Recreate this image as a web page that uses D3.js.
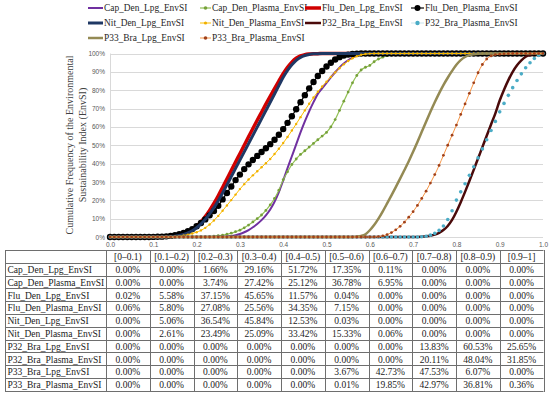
<!DOCTYPE html>
<html>
<head>
<meta charset="utf-8">
<script src="https://cdn.jsdelivr.net/npm/d3@7"></script>
<style>
  body { margin: 0; background: #fff; }
  svg { display: block; }
</style>
</head>
<body>
<div id="chart"></div>
<script>

// EnvSI sample grid 0.00 .. 1.00 (step 0.01)
var envsi = d3.range(0, 101).map(i => i / 100);

// Cumulative frequency (%)
var capDenLpg = [0,0,0,0,0,0,0,0,0,0, 0,0,0,0,0,0,0,0,0,0, 0,0,0,0,0,0,0.1,0.2,0.5,1.0,
  1.66,2.6,3.8,5.3,7.1,9.2,11.8,15,19.2,24.5, 30.8,37.5,44,50.5,57,63,68.5,73.5,78,81,
  84,87,89.8,92.3,94.5,96.3,97.7,98.7,99.3,99.7, 99.89,100,100,100,100,100,100,100,100,100,
  100,100,100,100,100,100,100,100,100,100, 100,100,100,100,100,100,100,100,100,100,
  100,100,100,100,100,100,100,100,100,100, 100];
var capDenPlasma = [0,0,0,0,0,0,0,0,0,0, 0,0,0,0,0,0,0,0,0,0, 0,0,0,0.2,0.4,0.7,1.0,1.5,2.1,2.9,
  3.74,5,6.5,8.2,10,12,14.5,17.5,21,25.5, 31.2,35.5,39.5,42.5,45,47,49,51,53,55,
  57,60,64,69,74,79,84,88,91,92.5, 93.5,95.5,97,98,98.8,99.3,99.6,99.8,99.9,100,
  100,100,100,100,100,100,100,100,100,100, 100,100,100,100,100,100,100,100,100,100,
  100,100,100,100,100,100,100,100,100,100, 100];
var fluDenLpg = [0,0,0,0,0,0,0,0,0,0.01, 0.02,0.05,0.1,0.2,0.35,0.6,1.0,1.7,2.7,4.0,
  5.8,8.2,11.1,14.5,18.3,22.5,27,31.6,36.2,40.8, 45.4,50,54.6,59.1,63.6,68,72.4,76.7,80.9,85,
  89,92.5,95.3,97.4,98.7,99.4,99.7,99.85,99.92,99.95, 99.97,99.99,100,100,100,100,100,100,100,100,
  100,100,100,100,100,100,100,100,100,100, 100,100,100,100,100,100,100,100,100,100,
  100,100,100,100,100,100,100,100,100,100, 100,100,100,100,100,100,100,100,100,100, 100];
var fluDenPlasma = [0,0,0,0,0,0,0.005,0.01,0.02,0.04, 0.06,0.1,0.2,0.35,0.6,1.0,1.5,2.2,3.1,4.3,
  5.86,7.6,9.6,11.8,14.2,17,20.5,24,27.5,31, 34,37,39.6,42,44.2,46.3,48.4,50.6,53,55.7,
  58.8,62.2,65.8,69.6,73.5,77.3,81,84.5,87.7,90.5, 92.9,95,96.7,98,98.9,99.4,99.7,99.9,100,100,
  100,100,100,100,100,100,100,100,100,100, 100,100,100,100,100,100,100,100,100,100,
  100,100,100,100,100,100,100,100,100,100, 100,100,100,100,100,100,100,100,100,100, 100];
var nitDenLpg = [0,0,0,0,0,0,0,0,0,0, 0,0.02,0.05,0.12,0.25,0.45,0.8,1.35,2.2,3.4,
  5.06,7.1,9.6,12.6,16,19.8,24,28.4,32.9,37.4, 41.9,46.4,50.9,55.4,59.9,64.4,68.9,73.4,77.9,82.5,
  87,90.8,93.9,96.3,97.9,98.9,99.5,99.8,99.9,99.95, 99.97,100,100,100,100,100,100,100,100,100,
  100,100,100,100,100,100,100,100,100,100, 100,100,100,100,100,100,100,100,100,100,
  100,100,100,100,100,100,100,100,100,100, 100,100,100,100,100,100,100,100,100,100, 100];
var nitDenPlasma = [0,0,0,0,0,0,0,0,0,0, 0,0.02,0.05,0.1,0.18,0.3,0.5,0.8,1.3,1.9,
  2.61,3.6,5,6.8,9,11.5,14.3,17.2,20.1,23.1, 26.1,28.8,31.3,33.6,35.8,38,40.2,42.5,45.2,48.1,
  51.2,54.5,58,61.6,65.3,69,72.6,76,79.2,82, 84.6,87.2,89.7,92,94.1,95.9,97.4,98.5,99.3,99.7,
  99.94,100,100,100,100,100,100,100,100,100, 100,100,100,100,100,100,100,100,100,100,
  100,100,100,100,100,100,100,100,100,100, 100,100,100,100,100,100,100,100,100,100, 100];
var p32BraLpg = [0,0,0,0,0,0,0,0,0,0, 0,0,0,0,0,0,0,0,0,0, 0,0,0,0,0,0,0,0,0,0,
  0,0,0,0,0,0,0,0,0,0, 0,0,0,0,0,0,0,0,0,0, 0,0,0,0,0,0,0,0,0,0, 0,0,0,0,0,0,0,0,0,0,
  0,0.05,0.15,0.35,0.7,1.3,2.3,3.8,6,9.3, 13.8,19,24.6,30.5,36.6,42.8,49,55.2,61.3,67.4,
  74.4,80.3,85.5,90,93.6,96.3,98.2,99.3,99.8,100, 100];
var p32BraPlasma = [0,0,0,0,0,0,0,0,0,0, 0,0,0,0,0,0,0,0,0,0, 0,0,0,0,0,0,0,0,0,0,
  0,0,0,0,0,0,0,0,0,0, 0,0,0,0,0,0,0,0,0,0, 0,0,0,0,0,0,0,0,0,0, 0,0,0,0,0,0,0,0,0,0,
  0,0,0.1,0.4,1,2,3.6,6,9.5,14.3, 20.1,24.6,29,33.6,38.3,43.1,48,53,58,63,
  68.2,72.8,77.2,81.4,85.3,88.9,92.2,95,97.3,99, 100];
var p33BraLpg = [0,0,0,0,0,0,0,0,0,0, 0,0,0,0,0,0,0,0,0,0, 0,0,0,0,0,0,0,0,0,0,
  0,0,0,0,0,0,0,0,0,0, 0,0,0,0,0,0,0,0,0,0, 0,0,0,0,0,0,0,0.2,0.6,1.5,
  3.67,6.5,10,14,18.3,22.7,27.2,31.8,36.5,41.3, 46.4,51.8,57.3,62.8,68.2,73.4,78.3,82.8,86.8,90.5,
  93.9,96.4,98.1,99.1,99.6,99.9,100,100,100,100, 100,100,100,100,100,100,100,100,100,100, 100];
var p33BraPlasma = [0,0,0,0,0,0,0,0,0,0, 0,0,0,0,0,0,0,0,0,0, 0,0,0,0,0,0,0,0,0,0,
  0,0,0,0,0,0,0,0,0,0, 0,0,0,0,0,0,0,0,0,0, 0,0,0,0,0,0,0,0,0,0,
  0.01,0.05,0.2,0.6,1.3,2.4,3.9,5.8,8.1,10.8, 13.8,17.2,21,25,29.4,34,39,44.5,50,55.5,
  61,66.8,72.5,78.3,84,89.5,94,97,98.7,99.4, 99.64,99.8,99.9,100,100,100,100,100,100,100, 100];

// Table: frequency per EnvSI class (%)
var binLabels = ["[0\u20130.1)", "[0.1\u20130.2)", "[0.2\u20130.3)", "[0.3\u20130.4)", "[0.4\u20130.5)",
  "[0.5\u20130.6)", "[0.6\u20130.7)", "[0.7\u20130.8)", "[0.8\u20130.9)", "[0.9\u20131]"];
var tabCapDenLpg    = [0, 0, 1.66, 29.16, 51.72, 17.35, 0.11, 0, 0, 0];
var tabCapDenPlasma = [0, 0, 3.74, 27.42, 25.12, 36.78, 6.95, 0, 0, 0];
var tabFluDenLpg    = [0.02, 5.58, 37.15, 45.65, 11.57, 0.04, 0, 0, 0, 0];
var tabFluDenPlasma = [0.06, 5.80, 27.08, 25.56, 34.35, 7.15, 0, 0, 0, 0];
var tabNitDenLpg    = [0, 5.06, 36.54, 45.84, 12.53, 0.03, 0, 0, 0, 0];
var tabNitDenPlasma = [0, 2.61, 23.49, 25.09, 33.42, 15.33, 0.06, 0, 0, 0];
var tabP32BraLpg    = [0, 0, 0, 0, 0, 0, 0, 13.83, 60.53, 25.65];
var tabP32BraPlasma = [0, 0, 0, 0, 0, 0, 0, 20.11, 48.04, 31.85];
var tabP33BraLpg    = [0, 0, 0, 0, 0, 3.67, 42.73, 47.53, 6.07, 0];
var tabP33BraPlasma = [0, 0, 0, 0, 0, 0.01, 19.85, 42.97, 36.81, 0.36];

var yTicks = [0, 10, 20, 30, 40, 50, 60, 70, 80, 90, 100];
var xTicks = [0, 0.1, 0.2, 0.3, 0.4, 0.5, 0.6, 0.7, 0.8, 0.9, 1.0];

// series styling
var series = [
  {name: "Cap_Den_Lpg_EnvSI", values: capDenLpg, table: tabCapDenLpg, color: "#7030A0", width: 2},
  {name: "Cap_Den_Plasma_EnvSI", values: capDenPlasma, table: tabCapDenPlasma, color: "#92C055", width: 1.2, marker: 1.4, markerColor: "#76A03A"},
  {name: "Flu_Den_Lpg_EnvSI", values: fluDenLpg, table: tabFluDenLpg, color: "#D00000", width: 3.5},
  {name: "Flu_Den_Plasma_EnvSI", values: fluDenPlasma, table: tabFluDenPlasma, color: "#000000", width: 1.2, marker: 3.2, markerColor: "#000000"},
  {name: "Nit_Den_Lpg_EnvSI", values: nitDenLpg, table: tabNitDenLpg, color: "#1F3864", width: 3},
  {name: "Nit_Den_Plasma_EnvSI", values: nitDenPlasma, table: tabNitDenPlasma, color: "#FFC000", width: 1, marker: 1.2, markerColor: "#F0B000"},
  {name: "P32_Bra_Lpg_EnvSI", values: p32BraLpg, table: tabP32BraLpg, color: "#4A0A0A", width: 2.5},
  {name: "P32_Bra_Plasma_EnvSI", values: p32BraPlasma, table: tabP32BraPlasma, color: "#4BACC6", width: 0, marker: 1.8, markerColor: "#4BACC6"},
  {name: "P33_Bra_Lpg_EnvSI", values: p33BraLpg, table: tabP33BraLpg, color: "#948A54", width: 2.5},
  {name: "P33_Bra_Plasma_EnvSI", values: p33BraPlasma, table: tabP33BraPlasma, color: "#F79646", width: 1, marker: 1.4, markerColor: "#A0401A"}
];

var svgWidth = 550;
var svgHeight = 394;
var plot = {left: 110, right: 543, top: 53.5, bottom: 237};

var svg = d3.select("#chart")
  .append("svg")
  .attr("width", svgWidth)
  .attr("height", svgHeight);

var xScale = d3.scaleLinear().domain([0, 1]).range([plot.left, plot.right]);
var yScale = d3.scaleLinear().domain([0, 100]).range([plot.bottom, plot.top]);

// gridlines
svg.append("g")
  .selectAll("line")
  .data(yTicks)
  .enter()
  .append("line")
  .attr("x1", plot.left)
  .attr("x2", plot.right)
  .attr("y1", d => Math.round(yScale(d)) + 0.5)
  .attr("y2", d => Math.round(yScale(d)) + 0.5)
  .attr("stroke", "#D9D9D9")
  .attr("stroke-width", 1);

// left axis line
svg.append("line")
  .attr("x1", plot.left + 0.5).attr("x2", plot.left + 0.5)
  .attr("y1", plot.top).attr("y2", plot.bottom + 3)
  .attr("stroke", "#D9D9D9");

// tick labels
var yAxis = d3.axisLeft(yScale).tickValues(yTicks).tickSize(0).tickPadding(5)
  .tickFormat(d => d + "%");
svg.append("g")
  .attr("transform", `translate(${plot.left}, 0)`)
  .call(yAxis)
  .call(g => g.select(".domain").remove())
  .selectAll("text")
  .style("font-family", "'Liberation Sans', Arial, sans-serif")
  .style("font-size", "6.5px")
  .attr("fill", "#595959");

var xAxis = d3.axisBottom(xScale).tickValues(xTicks).tickSize(0).tickPadding(5)
  .tickFormat(d3.format(".1f"));
svg.append("g")
  .attr("transform", `translate(0, ${plot.bottom})`)
  .call(xAxis)
  .call(g => g.select(".domain").remove())
  .selectAll("text")
  .style("font-family", "'Liberation Sans', Arial, sans-serif")
  .style("font-size", "6.5px")
  .attr("fill", "#595959");

// y axis title
var yTitle = svg.append("text")
  .attr("transform", "translate(73, 145) rotate(-90)")
  .attr("text-anchor", "middle")
  .style("font-family", "'Liberation Serif', 'DejaVu Serif', serif")
  .style("font-size", "10px")
  .attr("fill", "#404040");
yTitle.append("tspan").attr("x", 0).attr("dy", 0).text("Cumulative Frequency of the Environmental");
yTitle.append("tspan").attr("x", 0).attr("dy", 12.5).text("Sustainability Index (EnvSI)");

// curves
var line = d3.line()
  .x((d, i) => xScale(envsi[i]))
  .y(d => yScale(d))
  .curve(d3.curveMonotoneX);

series.forEach(function(s) {
  var g = svg.append("g");
  if (s.width > 0) {
    g.append("path")
      .attr("d", line(s.values))
      .attr("fill", "none")
      .attr("stroke", s.color)
      .attr("stroke-width", s.width)
      .attr("stroke-linejoin", "round");
  }
  if (s.marker) {
    g.selectAll("circle")
      .data(s.values)
      .enter()
      .append("circle")
      .attr("cx", (d, i) => xScale(envsi[i]))
      .attr("cy", d => yScale(d))
      .attr("r", s.marker)
      .attr("fill", s.markerColor);
  }
});

// legend (4 columns, 3 rows)
var legendLineX = [88, 200, 305, 411];
var legendTextX = [104, 212, 322, 425];
var legendRows = [8, 23, 38];
var legend = svg.append("g")
  .selectAll("g")
  .data(series)
  .enter()
  .append("g")
  .attr("transform", (d, i) => `translate(0, ${legendRows[Math.floor(i / 4)]})`);

legend.append("line")
  .attr("x1", (d, i) => legendLineX[i % 4])
  .attr("x2", (d, i) => legendTextX[i % 4] - 1)
  .attr("y1", 0).attr("y2", 0)
  .attr("stroke", d => d.color)
  .attr("stroke-width", d => d.width > 0 ? Math.min(d.width, 3.5) : 0.6)
  .attr("stroke-opacity", d => d.width > 0 ? 1 : 0.5);

legend.filter(d => d.marker)
  .append("circle")
  .attr("cx", d => (legendLineX[series.indexOf(d) % 4] + legendTextX[series.indexOf(d) % 4] - 1) / 2)
  .attr("cy", 0)
  .attr("r", d => Math.min(d.marker + 0.4, 3))
  .attr("fill", d => d.markerColor);

legend.append("text")
  .attr("x", (d, i) => legendTextX[i % 4])
  .attr("y", 0)
  .attr("dy", "0.33em")
  .style("font-family", "'Liberation Serif', 'DejaVu Serif', serif")
  .style("font-size", "9.4px")
  .attr("fill", "#262626")
  .text(d => d.name);

// data table
var table = {left: 5, firstCol: 106, right: 543.5, top: 250, rowH: 12.8};
var colX = d3.scaleLinear().domain([0, binLabels.length]).range([table.firstCol, table.right]);
var nRows = series.length + 1;
var tableG = svg.append("g");

tableG.selectAll("line.h")
  .data(d3.range(nRows + 1))
  .enter()
  .append("line")
  .attr("class", "h")
  .attr("x1", table.left)
  .attr("x2", table.right)
  .attr("y1", d => Math.round(table.top + d * table.rowH) + 0.5)
  .attr("y2", d => Math.round(table.top + d * table.rowH) + 0.5)
  .attr("stroke", "#6E6E6E");

tableG.selectAll("line.v")
  .data([-1].concat(d3.range(binLabels.length + 1)))
  .enter()
  .append("line")
  .attr("class", "v")
  .attr("x1", d => d < 0 ? table.left + 0.5 : Math.round(colX(d)) + 0.5)
  .attr("x2", d => d < 0 ? table.left + 0.5 : Math.round(colX(d)) + 0.5)
  .attr("y1", table.top)
  .attr("y2", Math.round(table.top + nRows * table.rowH) + 1)
  .attr("stroke", "#6E6E6E");

var cellFont = "'Liberation Serif', 'DejaVu Serif', serif";

tableG.selectAll("text.head")
  .data(binLabels)
  .enter()
  .append("text")
  .attr("class", "head")
  .attr("x", (d, i) => colX(i + 0.5))
  .attr("y", table.top + table.rowH / 2 + 0.5)
  .attr("dy", "0.35em")
  .attr("text-anchor", "middle")
  .style("font-family", cellFont)
  .style("font-size", "9.5px")
  .attr("fill", "#1a1a1a")
  .text(d => d);

var rowG = tableG.selectAll("g.row")
  .data(series)
  .enter()
  .append("g")
  .attr("class", "row")
  .attr("transform", (d, i) => `translate(0, ${table.top + (i + 1) * table.rowH + table.rowH / 2 + 0.5})`);

rowG.append("text")
  .attr("x", table.left + 2.5)
  .attr("dy", "0.35em")
  .style("font-family", cellFont)
  .style("font-size", "9.5px")
  .attr("fill", "#1a1a1a")
  .text(d => d.name);

rowG.selectAll("text.val")
  .data(d => d.table)
  .enter()
  .append("text")
  .attr("class", "val")
  .attr("x", (d, i) => colX(i + 0.5))
  .attr("dy", "0.35em")
  .attr("text-anchor", "middle")
  .style("font-family", cellFont)
  .style("font-size", "9.5px")
  .attr("fill", "#1a1a1a")
  .text(d => d.toFixed(2) + "%");

</script>
</body>
</html>
